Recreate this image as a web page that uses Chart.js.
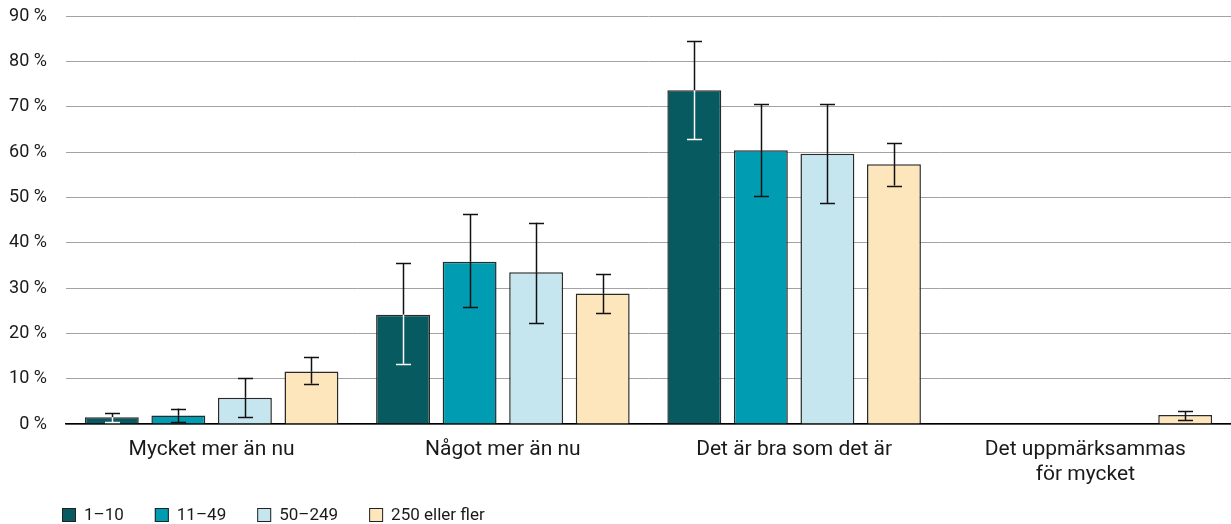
<!DOCTYPE html>
<html>
<head>
<meta charset="utf-8">
<script src="https://cdn.jsdelivr.net/npm/chart.js@4/dist/chart.umd.min.js"></script>
<style>
  html, body { margin: 0; padding: 0; background: #ffffff; }
  #wrap { position: relative; width: 1231px; height: 524px; }
</style>
</head>
<body>
<div id="wrap"><canvas id="c"></canvas></div>
<script>
const categories = ["Mycket mer än nu", "Något mer än nu", "Det är bra som det är", ["Det uppmärksammas", "för mycket"]];
const seriesNames = ["1–10", "11–49", "50–249", "250 eller fler"];
const seriesColors = ["#065a60", "#009db2", "#c6e6ef", "#fde5bc"];

const values1to10   = [1.5, 24.1, 73.6, null];
const values11to49  = [1.9, 35.8, 60.4, null];
const values50to249 = [5.8, 33.5, 59.6, null];
const values250plus = [11.6, 28.8, 57.3, 2.0];

const low1to10   = [0.4, 13.3, 62.8, null];
const high1to10  = [2.4, 35.5, 84.5, null];
const low11to49  = [0.4, 25.7, 50.3, null];
const high11to49 = [3.4, 46.3, 70.5, null];
const low50to249  = [1.5, 22.2, 48.7, null];
const high50to249 = [10.1, 44.4, 70.5, null];
const low250plus  = [8.9, 24.5, 52.6, 0.8];
const high250plus = [14.8, 33.1, 62.0, 2.8];

const yTicks = [0, 10, 20, 30, 40, 50, 60, 70, 80, 90];

const seriesValues = [values1to10, values11to49, values50to249, values250plus];
const seriesLow = [low1to10, low11to49, low50to249, low250plus];
const seriesHigh = [high1to10, high11to49, high50to249, high250plus];

const FONT = "Roboto, 'Noto Sans', sans-serif";

const errorBarPlugin = {
  id: 'errorBars',
  afterDatasetsDraw(chart) {
    const ctx = chart.ctx;
    const y = chart.scales.y;
    chart.data.datasets.forEach((ds, i) => {
      const meta = chart.getDatasetMeta(i);
      meta.data.forEach((el, j) => {
        const lo = seriesLow[i][j], hi = seriesHigh[i][j];
        if (lo == null || hi == null || ds.data[j] == null) return;
        const x = Math.round(el.x) + 0.5;
        const yHi = y.getPixelForValue(hi);
        const yLo = y.getPixelForValue(lo);
        const barTop = el.y;
        const inside = i === 0 ? '#ffffff' : '#111111';
        const outside = '#111111';
        const cap = 7.5;
        ctx.save();
        ctx.lineWidth = 1.5;
        ctx.strokeStyle = outside;
        ctx.beginPath();
        ctx.moveTo(x, yHi);
        ctx.lineTo(x, Math.min(barTop, yLo));
        ctx.stroke();
        if (yLo > barTop) {
          ctx.strokeStyle = inside;
          ctx.beginPath();
          ctx.moveTo(x, Math.max(barTop, yHi));
          ctx.lineTo(x, yLo);
          ctx.stroke();
        }
        const drawCap = (yy) => {
          ctx.strokeStyle = yy > barTop + 0.5 ? inside : outside;
          ctx.beginPath();
          ctx.moveTo(x - cap, Math.round(yy) + 0.5);
          ctx.lineTo(x + cap, Math.round(yy) + 0.5);
          ctx.stroke();
        };
        drawCap(yHi);
        drawCap(yLo);
        ctx.restore();
      });
    });
  }
};

const legendPlugin = {
  id: 'customLegend',
  afterDraw(chart) {
    const ctx = chart.ctx;
    ctx.save();
    ctx.font = "17px " + FONT;
    ctx.textBaseline = 'middle';
    ctx.textAlign = 'left';
    let x = 62;
    const cy = 515;
    chart.data.datasets.forEach((ds) => {
      ctx.fillStyle = ds.backgroundColor;
      ctx.fillRect(x, cy - 7, 14, 14);
      ctx.strokeStyle = '#222';
      ctx.lineWidth = 1;
      ctx.strokeRect(x + 0.5, cy - 6.5, 13, 13);
      ctx.fillStyle = '#1a1a1a';
      ctx.fillText(ds.label, x + 22, cy + 1);
      x += 22 + ctx.measureText(ds.label).width + 31;
    });
    ctx.restore();
  }
};

const datasets = seriesNames.map((name, i) => ({
  label: name,
  data: seriesValues[i],
  backgroundColor: seriesColors[i],
  borderColor: '#2a2a2a',
  borderWidth: 1.5,
  categoryPercentage: 0.914,
  barPercentage: 0.81
}));

new Chart(document.getElementById('c'), {
  type: 'bar',
  data: { labels: categories, datasets },
  options: {
    responsive: true,
    maintainAspectRatio: false,
    animation: false,
    layout: { padding: { top: 0, left: 0, right: 0, bottom: 40 } },
    plugins: { legend: { display: false }, tooltip: { enabled: false } },
    scales: {
      x: {
        afterFit(axis) { axis.height = 60; axis.paddingLeft = 0; axis.paddingRight = 0; },
        grid: { display: false, drawTicks: false },
        border: { display: true, color: '#000000', width: 1.5 },
        ticks: { color: '#1a1a1a', font: { family: FONT, size: 21 }, padding: 13, maxRotation: 0 }
      },
      y: {
        min: 0, max: 90,
        afterBuildTicks(axis) { axis.ticks = yTicks.map(v => ({ value: v })); },
        afterFit(axis) { axis.width = 66; axis.paddingTop = 16; axis.paddingBottom = 0; },
        grid: { color: '#a3a3a3', lineWidth: 1, drawTicks: false },
        border: { display: false },
        ticks: {
          color: '#1a1a1a',
          font: { family: FONT, size: 18 },
          padding: 19,
          callback: (v) => v + ' %'
        }
      }
    }
  },
  plugins: [errorBarPlugin, legendPlugin]
});
</script>
</body>
</html>
